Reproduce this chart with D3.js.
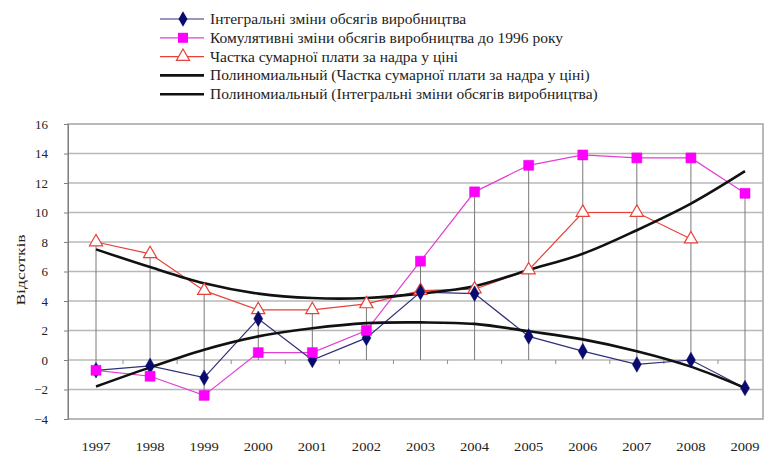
<!DOCTYPE html>
<html>
<head>
<meta charset="utf-8">
<script src="https://cdn.jsdelivr.net/npm/d3@7"></script>
<style>
  html, body { margin: 0; padding: 0; background: #fff; }
  svg text { font-family: "Liberation Serif", "DejaVu Serif", serif !important; }
</style>
</head>
<body>
<svg id="chart" width="765" height="454"></svg>
<script>
// ---- data ----
const years = ["1997","1998","1999","2000","2001","2002","2003","2004","2005","2006","2007","2008","2009"];
const integral   = [-0.7, -0.4, -1.2, 2.8, 0.0, 1.5, 4.6, 4.5, 1.6, 0.6, -0.3, 0.0, -1.9];
const cumulative = [-0.7, -1.1, -2.4, 0.5, 0.5, 2.0, 6.7, 11.4, 13.2, 13.9, 13.7, 13.7, 11.3];
const share      = [8.0, 7.2, 4.7, 3.4, 3.4, 3.8, 4.7, 4.8, 6.1, 10.0, 10.0, 8.2, null];
const trendShare    = [7.5, 6.3, 5.2, 4.5, 4.2, 4.2, 4.5, 5.0, 6.1, 7.2, 8.8, 10.6, 12.8];
const trendIntegral = [-1.8, -0.5, 0.7, 1.6, 2.15, 2.5, 2.55, 2.45, 1.95, 1.4, 0.6, -0.45, -1.9];
const yTicks = [-4, -2, 0, 2, 4, 6, 8, 10, 12, 14, 16];
const legendLabels = [
  "Інтегральні зміни обсягів виробництва",
  "Комулятивні зміни обсягів виробництва до 1996 року",
  "Частка сумарної плати за надра у ціні",
  "Полиномиальный (Частка сумарної плати за надра у ціні)",
  "Полиномиальный (Інтегральні зміни обсягів виробництва)"
];
const yTitle = "Відсотків";

(function () {
const FONT = "Liberation Serif";
const svg = d3.select("#chart");
const pL = 68, pR = 763, pT = 124, pB = 419;
const x = d3.scalePoint().domain(years).range([96, 745]);
const y = d3.scaleLinear().domain([-4, 16]).range([pB, pT]);

// gridlines
svg.append("g").selectAll("line").data(yTicks.filter(t => t > -4 && t < 16)).join("line")
  .attr("x1", pL).attr("x2", pR)
  .attr("y1", d => y(d)).attr("y2", d => y(d))
  .attr("stroke", "#b8b8b8").attr("stroke-width", 1.6);

// frame
svg.append("rect").attr("x", pL).attr("y", pT)
  .attr("width", pR - pL).attr("height", pB - pT)
  .attr("fill", "none").attr("stroke", "#a8a8a8").attr("stroke-width", 1.6);

// y axis
const yAxis = d3.axisLeft(y).tickValues(yTicks).tickSize(4).tickPadding(16);
const gy = svg.append("g").attr("transform", `translate(${pL},0)`).call(yAxis)
  .attr("font-family", FONT);
gy.select(".domain").attr("stroke", "#808080");
gy.selectAll(".tick line").attr("stroke", "#808080");
gy.selectAll(".tick text").attr("font-size", 13).attr("fill", "#222")
  .attr("font-family", FONT);

// category axis crossing at 0: minor ticks between categories
const step = x.step();
const mids = years.slice(0, -1).map(yr => x(yr) + step / 2);
svg.append("g").selectAll("line").data(mids).join("line")
  .attr("x1", d => d).attr("x2", d => d)
  .attr("y1", y(0)).attr("y2", y(0) + 4)
  .attr("stroke", "#909090").attr("stroke-width", 1);

// x labels at bottom
svg.append("g").selectAll("text").data(years).join("text")
  .attr("x", d => x(d)).attr("y", 451)
  .attr("text-anchor", "middle").attr("font-size", 13).attr("fill", "#222")
  .attr("font-family", FONT)
  .attr("transform", d => `translate(${x(d)},0) scale(1.12,1) translate(${-x(d)},0)`)
  .text(d => d);

// y title
svg.append("text")
  .attr("transform", "translate(25,270) rotate(-90) scale(1.3,1)")
  .attr("text-anchor", "middle").attr("font-size", 13.5).attr("fill", "#222")
  .attr("font-family", FONT)
  .text(yTitle);

// drop lines
const drops = years.map((yr, i) => {
  const vals = [integral[i], cumulative[i], share[i]].filter(v => v != null);
  return { yr, hi: Math.max(0, ...vals), lo: Math.min(0, ...vals) };
});
svg.append("g").selectAll("line").data(drops).join("line")
  .attr("x1", d => x(d.yr)).attr("x2", d => x(d.yr))
  .attr("y1", d => y(d.hi)).attr("y2", d => y(d.lo))
  .attr("stroke", "#7a7a7a").attr("stroke-width", 1);

const line = d3.line().defined(d => d.v != null).x(d => x(d.yr)).y(d => y(d.v));
const smooth = d3.line().x(d => x(d.yr)).y(d => y(d.v)).curve(d3.curveCatmullRom.alpha(0.5));
const pts = arr => years.map((yr, i) => ({ yr, v: arr[i] }));

// series lines
svg.append("path").attr("d", line(pts(share))).attr("fill", "none")
  .attr("stroke", "#e8403a").attr("stroke-width", 1.2);
svg.append("path").attr("d", line(pts(cumulative))).attr("fill", "none")
  .attr("stroke", "#e040d0").attr("stroke-width", 1.2);
svg.append("path").attr("d", line(pts(integral))).attr("fill", "none")
  .attr("stroke", "#30307a").attr("stroke-width", 1.2);

// trend lines
svg.append("path").attr("d", smooth(pts(trendShare))).attr("fill", "none")
  .attr("stroke", "#111").attr("stroke-width", 2.6);
svg.append("path").attr("d", smooth(pts(trendIntegral))).attr("fill", "none")
  .attr("stroke", "#111").attr("stroke-width", 2.6);

// markers
const sym = (type, size) => d3.symbol().type(type).size(size)();
function markers(arr, type, size, fill, stroke, sw) {
  svg.append("g").selectAll("path").data(pts(arr).filter(d => d.v != null)).join("path")
    .attr("transform", d => `translate(${x(d.yr)},${y(d.v)})`)
    .attr("d", sym(type, size))
    .attr("fill", fill).attr("stroke", stroke).attr("stroke-width", sw);
}
markers(share, d3.symbolTriangle, 75, "#fff", "#e8403a", 1.2);
markers(integral, d3.symbolDiamond, 70, "#0a0a6e", "#0a0a6e", 0.5);
markers(cumulative, d3.symbolSquare, 100, "#ff00ff", "#e000e0", 0.5);

// legend
const leg = svg.append("g");
const rowY = i => 19 + i * 18.8;
const colors = ["#30307a", "#e040d0", "#e8403a", "#111", "#111"];
legendLabels.forEach((lab, i) => {
  const g = leg.append("g").attr("transform", `translate(0,${rowY(i)})`);
  g.append("line").attr("x1", 160).attr("x2", 204).attr("y1", 0).attr("y2", 0)
    .attr("stroke", colors[i]).attr("stroke-width", i >= 3 ? 2.6 : 1.2);
  if (i === 0) g.append("path").attr("transform", "translate(183,0)").attr("d", sym(d3.symbolDiamond, 70)).attr("fill", "#0a0a6e");
  if (i === 1) g.append("path").attr("transform", "translate(183,0)").attr("d", sym(d3.symbolSquare, 100)).attr("fill", "#ff00ff");
  if (i === 2) g.append("path").attr("transform", "translate(183,0)").attr("d", sym(d3.symbolTriangle, 75)).attr("fill", "#fff").attr("stroke", "#e8403a").attr("stroke-width", 1.2);
  g.append("text").attr("transform", "translate(210,5) scale(1.07,1)")
    .attr("font-size", 14.5).attr("fill", "#222")
    .attr("font-family", FONT).text(lab);
});
})();
</script>
</body>
</html>
